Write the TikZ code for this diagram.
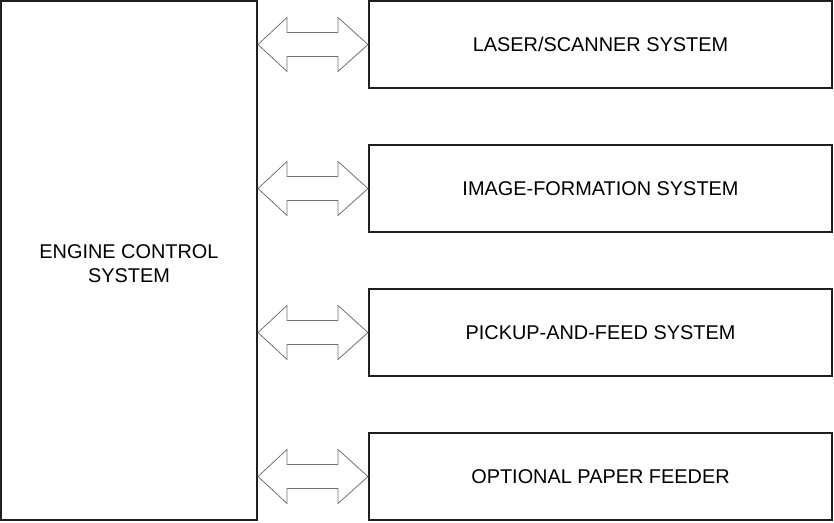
\documentclass[tikz,border=0pt]{standalone}
\usepackage{fontspec}
\setmainfont{Liberation Sans}
\begin{document}
\begin{tikzpicture}[x=1pt,y=-1pt,
  box/.style={draw=black!88, line width=2pt, inner sep=0pt, align=center,
    font=\fontsize{19.9}{24}\selectfont},
  subbox/.style={box, minimum width=463pt, minimum height=87pt},
  dblarrow/.style={draw=black!55, line width=0.8pt, fill=white, line join=miter}]
\useasboundingbox (0,0) rectangle (834,522);
\node[box, minimum width=256pt, minimum height=519pt] (ecs) at (129,260.5) {};
\node[font=\fontsize{19.9}{24}\selectfont, align=center] (ecst) at (129,263.5) {ENGINE CONTROL\\SYSTEM};
\node[subbox] (b1) at (600.5,44.5) {LASER/SCANNER SYSTEM};
\node[subbox] (b2) at (600.5,188.5) {IMAGE-FORMATION SYSTEM};
\node[subbox] (b3) at (600.5,332.5) {PICKUP-AND-FEED SYSTEM};
\node[subbox] (b4) at (600.5,476.5) {OPTIONAL PAPER FEEDER};
\foreach \b in {b1,b2,b3,b4}{
  \begin{scope}[shift={(ecs.east |- \b.west)}]
    \draw[dblarrow] (0,0) -- (29,-27) -- (29,-12) -- (80,-12) -- (80,-27) -- (110,0)
      -- (80,27) -- (80,12) -- (29,12) -- (29,27) -- cycle;
  \end{scope}
}
\end{tikzpicture}
\end{document}
